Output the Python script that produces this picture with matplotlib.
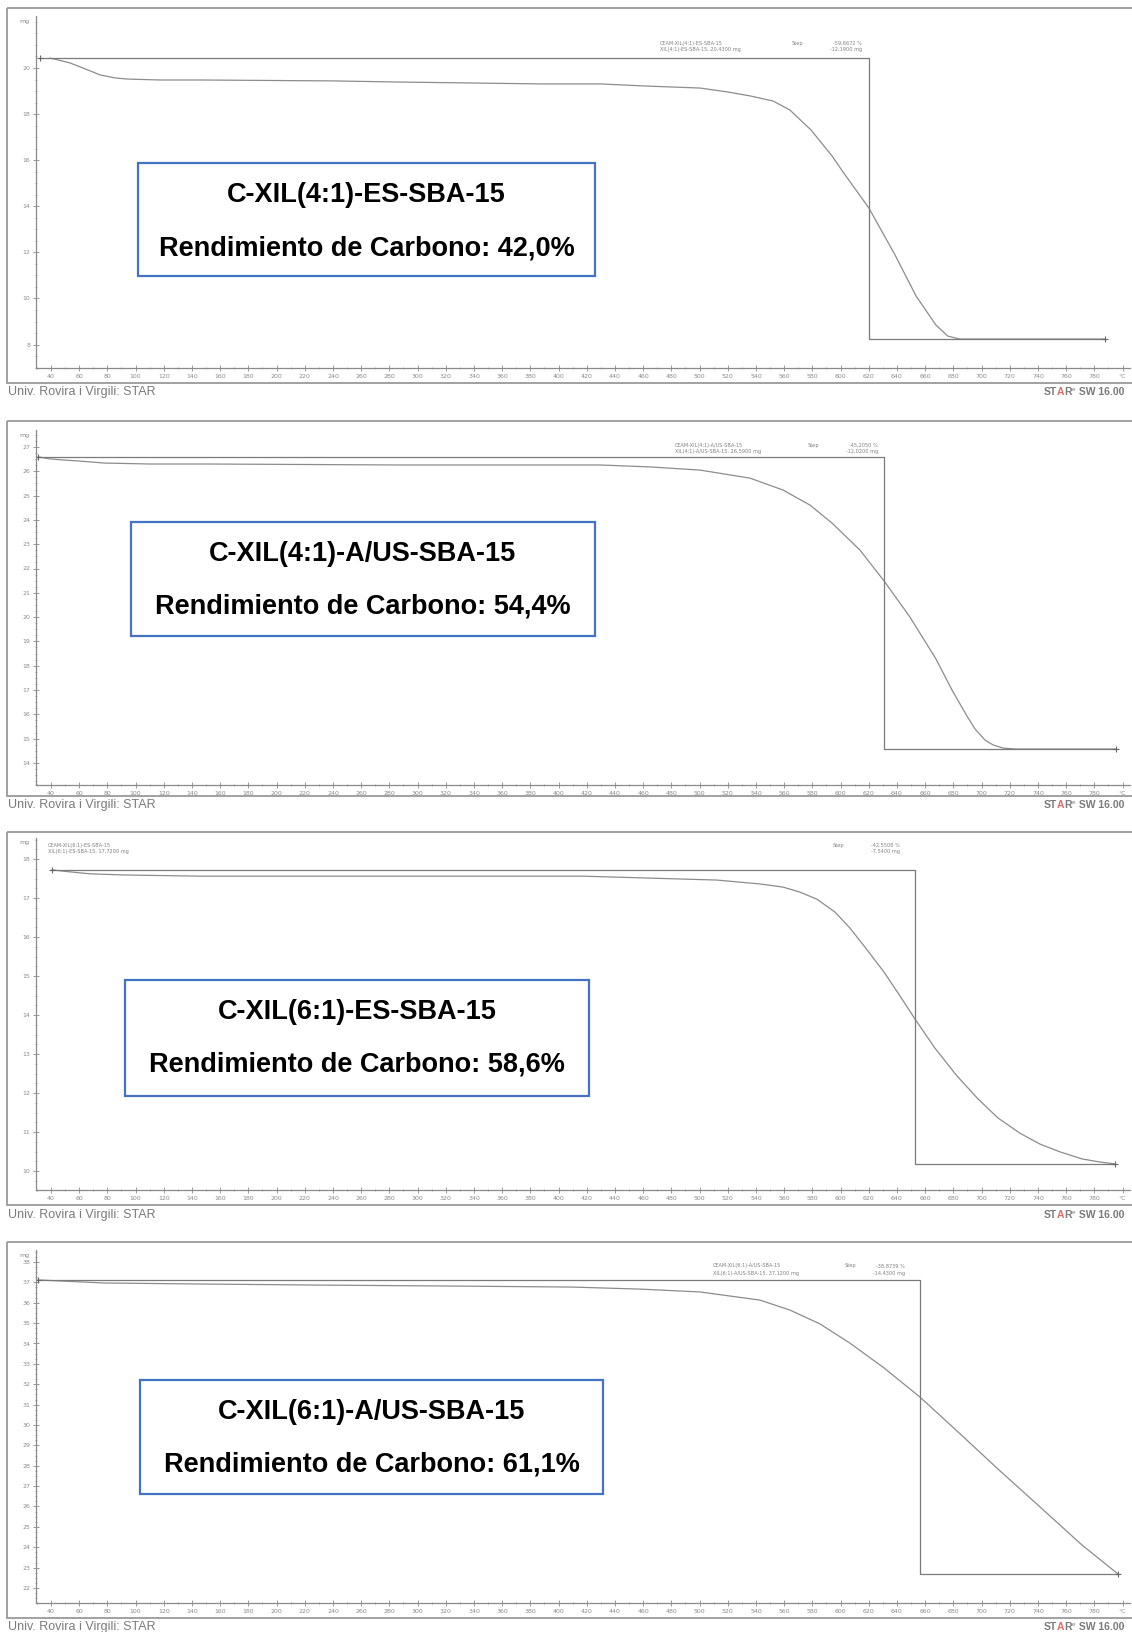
import matplotlib.pyplot as plt
from matplotlib.patches import Rectangle
from matplotlib.font_manager import FontProperties
from matplotlib.ticker import FixedLocator, MultipleLocator, AutoMinorLocator

W, H = 1132, 1632

# ---- data (temperature in °C, mass in mg) ----
temp_1 = [39.3, 45.0, 53.5, 62.7, 74.8, 85.4, 93.9, 117.3, 145.7, 240.0, 287.5, 387.5,
          429.3, 461.0, 500.3, 520.0, 535.7, 552.0, 564.0, 579.0, 594.0, 601.7, 620.0,
          638.6, 653.5, 667.6, 676.0, 684.6, 787.5]
mass_1 = [20.43, 20.35, 20.22, 20.00, 19.70, 19.57, 19.52, 19.48, 19.48, 19.44, 19.39, 19.31,
          19.31, 19.22, 19.13, 18.96, 18.79, 18.57, 18.18, 17.31, 16.18, 15.49, 13.93,
          11.89, 10.11, 8.85, 8.37, 8.24, 8.24]

temp_2 = [30.8, 39.3, 47.8, 60.6, 77.6, 110.2, 151.3, 287.5, 387.5, 429.3, 464.8, 500.3,
          535.7, 559.1, 578.3, 593.9, 613.7, 630.8, 649.2, 667.6, 679.0, 689.6, 695.3,
          702.4, 708.1, 715.2, 723.7, 795.0]
mass_2 = [26.59, 26.51, 26.47, 26.42, 26.34, 26.30, 26.30, 26.26, 26.26, 26.26, 26.18, 26.05,
          25.72, 25.23, 24.61, 23.87, 22.76, 21.49, 20.00, 18.28, 17.00, 15.93, 15.40,
          14.94, 14.74, 14.61, 14.57, 14.57]

temp_3 = [40.7, 53.5, 67.7, 92.5, 145.7, 225.1, 323.0, 417.3, 464.8, 512.3, 542.8, 559.1,
          571.2, 583.2, 596.0, 606.6, 617.3, 630.8, 642.1, 652.7, 666.9, 682.5, 697.4,
          711.6, 727.2, 741.4, 755.6, 771.2, 784.0, 794.6]
mass_3 = [17.72, 17.67, 17.62, 17.59, 17.56, 17.56, 17.56, 17.56, 17.51, 17.46, 17.36, 17.28,
          17.15, 16.97, 16.64, 16.23, 15.74, 15.10, 14.49, 13.90, 13.15, 12.44, 11.85,
          11.36, 10.97, 10.69, 10.49, 10.31, 10.23, 10.18]

temp_4 = [30.8, 46.4, 77.6, 145.7, 225.1, 323.0, 409.5, 457.7, 500.3, 542.8, 564.1, 585.4,
          606.6, 630.8, 656.3, 682.5, 711.6, 741.4, 771.2, 796.7]
mass_4 = [37.12, 37.07, 36.97, 36.92, 36.87, 36.82, 36.77, 36.67, 36.53, 36.13, 35.64, 34.96,
          34.02, 32.80, 31.37, 29.71, 27.84, 25.98, 24.11, 22.69]

# step evaluation: start temp, limit temp, end temp
step_1 = [32.0, 620.0, 787.5]
step_2 = [30.8, 630.8, 795.0]
step_3 = [40.7, 652.7, 794.6]
step_4 = [30.8, 656.3, 796.7]

yticks_1 = [20, 18, 16, 14, 12, 10, 8]
yticks_2 = [27, 26, 25, 24, 23, 22, 21, 20, 19, 18, 17, 16, 15, 14]
yticks_3 = [18, 17, 16, 15, 14, 13, 12, 11, 10]
yticks_4 = [38, 37, 36, 35, 34, 33, 32, 31, 30, 29, 28, 27, 26, 25, 24, 23, 22]

xticks = list(range(40, 800, 20))

names = ['C-XIL(4:1)-ES-SBA-15', 'C-XIL(4:1)-A/US-SBA-15',
         'C-XIL(6:1)-ES-SBA-15', 'C-XIL(6:1)-A/US-SBA-15']
yields = ['42,0%', '54,4%', '58,6%', '61,1%']

# ---- layout in pixels ----
panels = [
    dict(t=temp_1, m=mass_1, s=step_1, yt=yticks_1, frame=(8, 383), ax=(16, 368),
         tick0=68, tsp=46.1, box=(138, 163, 595, 276), foot=392,
         lab=(660, 43), stp=(792, 862)),
    dict(t=temp_2, m=mass_2, s=step_2, yt=yticks_2, frame=(421, 796), ax=(430, 785),
         tick0=447, tsp=24.3, box=(131, 522, 595, 636), foot=805,
         lab=(675, 445), stp=(808, 878)),
    dict(t=temp_3, m=mass_3, s=step_3, yt=yticks_3, frame=(832, 1205), ax=(838, 1190),
         tick0=859, tsp=39.0, box=(125, 980, 589, 1096), foot=1215,
         lab=(48, 845), stp=(833, 900)),
    dict(t=temp_4, m=mass_4, s=step_4, yt=yticks_4, frame=(1242, 1618), ax=(1250, 1603),
         tick0=1262, tsp=20.375, box=(140, 1380, 603, 1494), foot=1627,
         lab=(713, 1266), stp=(845, 905)),
]

AX_L, AX_R = 36, 1130
X0_PX, X_PER_DEG = 51, 28.2 / 20.0

gray = '#8a8a8a'
foot_gray = '#7a7a7a'
fig = plt.figure(figsize=(W / 100, H / 100), dpi=100)

for i, p in enumerate(panels):
    top, bot = p['ax']
    ax = fig.add_axes([AX_L / W, 1 - bot / H, (AX_R - AX_L) / W, (bot - top) / H])
    # axis limits so the ticks fall where they do in the scan
    xlo = 40 + (AX_L - X0_PX) / X_PER_DEG
    xhi = 40 + (AX_R - X0_PX) / X_PER_DEG
    yt = p['yt']
    d = (yt[0] - yt[1])
    ytop = yt[0] - (top - p['tick0']) / p['tsp'] * d
    ybot = yt[0] - (bot - p['tick0']) / p['tsp'] * d
    ax.set_xlim(xlo, xhi)
    ax.set_ylim(ybot, ytop)

    ax.plot(p['t'], p['m'], color='#8c8c8c', lw=0.9)
    m0, m1 = p['m'][0], p['m'][-1]
    s0, s1, s2 = p['s']
    ax.plot([s0, s1, s1, s2], [m0, m0, m1, m1], color='#7a7a7a', lw=0.9)
    ax.plot([s0, s2], [m0, m1], ls='none', marker='+', ms=5, mew=0.8, color='#666666')

    ax.set_facecolor('none')
    for side in ['top', 'right']:
        ax.spines[side].set_visible(False)
    for side in ['left', 'bottom']:
        ax.spines[side].set_color(gray)
        ax.spines[side].set_linewidth(0.9)
    ax.xaxis.set_major_locator(FixedLocator(xticks + [800]))
    ax.set_xticklabels([str(v) for v in xticks] + ['°C'])
    ax.xaxis.set_minor_locator(MultipleLocator(10))
    ax.yaxis.set_major_locator(FixedLocator(yt))
    ax.set_yticklabels([str(v) for v in yt])
    ax.yaxis.set_minor_locator(AutoMinorLocator(4))
    ax.tick_params(which='major', direction='inout', length=4, width=0.6, colors=gray,
                   labelsize=4.5, pad=2)
    ax.tick_params(which='minor', direction='inout', length=2, width=0.5, colors=gray)
    ax.text(-0.006, 1 - 5 / (bot - top), 'mg', transform=ax.transAxes,
            ha='right', va='center', fontsize=4.5, color=gray)

# overlay in pixel coordinates for frames, boxes and labels
ov = fig.add_axes([0, 0, 1, 1], zorder=5)
ov.set_xlim(0, W)
ov.set_ylim(H, 0)
ov.axis('off')

fmt = lambda v, n: f'{v:.{n}f}'.replace('.', ',')

renderer = fig.canvas.get_renderer()
fp_star = FontProperties(family='Liberation Sans', weight='bold', size=7.5)
fp_sup = FontProperties(family='Liberation Sans', size=4.5)
adv = lambda s, fp: renderer.get_text_width_height_descent(s, fp, ismath=False)[0]

for i, p in enumerate(panels):
    ft, fb = p['frame']
    ov.add_patch(Rectangle((7, ft), 1140, fb - ft, fill=False, ec='#9a9a9a', lw=1.3))
    ov.text(8, p['foot'], 'Univ. Rovira i Virgili: STAR', fontsize=9, color=foot_gray,
            va='center', ha='left', family='Liberation Sans')

    # "STARe SW 16.00" with the red A
    fx, fy = 1044, p['foot'] + 3
    ov.text(fx, fy, 'ST', fontproperties=fp_star, color=foot_gray, va='baseline')
    ov.text(fx + adv('STA', fp_star) - adv('A', fp_star), fy, 'A', fontproperties=fp_star,
            color='#e06c6c', va='baseline')
    ov.text(fx + adv('STAR', fp_star) - adv('R', fp_star), fy, 'R', fontproperties=fp_star,
            color=foot_gray, va='baseline')
    xe = fx + adv('STAR', fp_star) + 0.5
    ov.text(xe, fy - 4, 'e', fontproperties=fp_sup, color=foot_gray, va='baseline')
    ov.text(xe + adv('e', fp_sup), fy, ' SW 16.00', fontproperties=fp_star, color=foot_gray,
            va='baseline')

    # small result header of the instrument
    m0, m1 = p['m'][0], p['m'][-1]
    pct = (m1 - m0) / m0 * 100
    name = names[i]
    lx, ly = p['lab']
    ov.text(lx, ly, 'CEAM-' + name[2:], fontsize=3.6, color='#808080', va='center')
    ov.text(lx, ly + 7, name[2:] + ', ' + fmt(m0, 4) + ' mg', fontsize=3.6,
            color='#808080', va='center')
    sx, vx = p['stp']
    ov.text(sx, ly, 'Step', fontsize=3.6, color='#808080', va='center')
    ov.text(vx, ly, fmt(pct, 4) + ' %', fontsize=3.6, color='#808080', va='center', ha='right')
    ov.text(vx, ly + 7, fmt(m1 - m0, 4) + ' mg', fontsize=3.6, color='#808080',
            va='center', ha='right')

    # blue result box
    x0, y0, x1, y1 = p['box']
    ov.add_patch(Rectangle((x0, y0), x1 - x0, y1 - y0, fc='white', ec='#4472C4', lw=1.6))
    cx = (x0 + x1) / 2
    ov.text(cx, y0 + 32, name, fontsize=19.5, fontweight='bold', family='Liberation Sans',
            ha='center', va='center', color='black')
    ov.text(cx, y0 + 85, 'Rendimiento de Carbono: ' + yields[i], fontsize=19.5,
            fontweight='bold', family='Liberation Sans', ha='center', va='center', color='black')

fig.savefig('out.png', dpi=100, facecolor='white')
